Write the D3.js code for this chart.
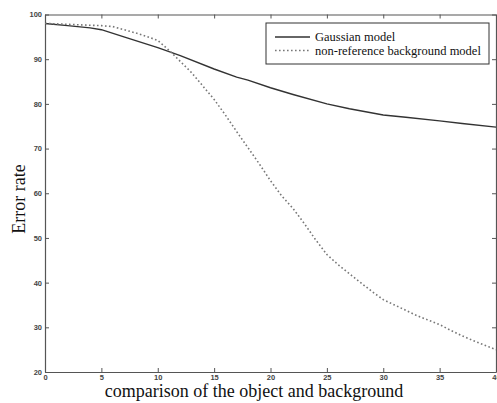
<!DOCTYPE html>
<html>
<head>
<meta charset="utf-8">
<script src="https://cdn.jsdelivr.net/npm/d3@7"></script>
<style>
  body { margin: 0; background: #fff; }
  svg { display: block; }
</style>
</head>
<body>
<div id="chart"></div>
<script>
// values
const x_ticks = [0, 5, 10, 15, 20, 25, 30, 35, 40];
const y_ticks = [20, 30, 40, 50, 60, 70, 80, 90, 100];

const gauss_x = [0, 2, 4, 5, 7, 10, 12, 15, 17, 18, 20, 22, 25, 27, 30, 32, 35, 37, 40];
const gauss_y = [98, 97.5, 97, 96.6, 95, 92.6, 90.8, 87.8, 86, 85.3, 83.6, 82.1, 80, 78.9, 77.5, 77, 76.2, 75.6, 74.8];

const bg_x = [0, 2, 4, 5, 6, 7, 8, 9, 10, 11, 12, 13, 14, 15, 16, 17, 18, 19, 20, 21, 22, 23, 24, 25,
              26, 27, 28, 29, 30, 31, 32, 33, 34, 35, 36, 37, 38, 39, 40];
const bg_y = [98, 97.8, 97.6, 97.5, 97.3, 96.6, 95.9, 95.1, 94.2, 92, 89.5, 87, 84, 81, 77.5, 73.8, 70.2, 66.6, 62.8, 59.4, 56.6, 53.2, 49.6, 46.3,
              44, 42, 40, 38, 36.2, 35, 33.8, 32.6, 31.6, 30.6, 29.3, 28.1, 27, 26, 25];

const series_names = ["Gaussian model", "non-reference background model"];

function drawChart() {
    const width = 497, height = 403;
    const margin = {top: 14.5, right: 1, bottom: 31, left: 45};
    const w = width - margin.left - margin.right;
    const h = height - margin.top - margin.bottom;

    const svg = d3.select("#chart").append("svg")
        .attr("width", width)
        .attr("height", height);

    const g = svg.append("g")
        .attr("transform", "translate(" + margin.left + "," + margin.top + ")");

    const x = d3.scaleLinear().domain([0, 40]).range([0, w]);
    const y = d3.scaleLinear().domain([20, 100]).range([h, 0]);

    const tick_font = "bold 7.5px 'Liberation Sans', Arial, sans-serif";

    // bottom axis, ticks pointing in
    const xa = g.append("g")
        .attr("transform", "translate(0," + h + ")")
        .call(d3.axisBottom(x).tickValues(x_ticks).tickSizeInner(-4).tickSizeOuter(0).tickPadding(4));
    // top axis
    const xt = g.append("g")
        .call(d3.axisTop(x).tickValues(x_ticks).tickSizeInner(-4).tickSizeOuter(0).tickFormat(""));
    // left axis
    const ya = g.append("g")
        .call(d3.axisLeft(y).tickValues(y_ticks).tickSizeInner(-4).tickSizeOuter(0).tickPadding(3));
    // right axis
    const yr = g.append("g")
        .attr("transform", "translate(" + w + ",0)")
        .call(d3.axisRight(y).tickValues(y_ticks).tickSizeInner(-4).tickSizeOuter(0).tickFormat(""));

    [xa, xt, ya, yr].forEach(function(a) {
        a.selectAll("path").attr("stroke", "#555").attr("stroke-width", 1.2);
        a.selectAll("line").attr("stroke", "#555");
        a.selectAll("text").attr("fill", "#444").style("font", tick_font);
    });
    xa.selectAll("text").attr("dy", "0.5em");

    // lines
    const line = d3.line()
        .x(d => x(d[0]))
        .y(d => y(d[1]));

    g.append("path")
        .datum(d3.zip(gauss_x, gauss_y))
        .attr("fill", "none")
        .attr("stroke", "#333")
        .attr("stroke-width", 1.4)
        .attr("d", line);

    g.append("path")
        .datum(d3.zip(bg_x, bg_y))
        .attr("fill", "none")
        .attr("stroke", "#777")
        .attr("stroke-width", 1.6)
        .attr("stroke-dasharray", "1.6,2.4")
        .attr("d", line);

    // legend
    const legend = svg.append("g").attr("transform", "translate(266,23)");
    legend.append("rect")
        .attr("width", 223).attr("height", 41)
        .attr("fill", "#fff")
        .attr("stroke", "#333")
        .attr("stroke-width", 1);

    const styles = [
        {stroke: "#333", dash: null, sw: 1.4},
        {stroke: "#777", dash: "1.6,2.4", sw: 1.6}
    ];
    series_names.forEach(function(name, i) {
        const yy = 14 + i * 13.5;
        legend.append("line")
            .attr("x1", 9).attr("x2", 44)
            .attr("y1", yy).attr("y2", yy)
            .attr("stroke", styles[i].stroke)
            .attr("stroke-width", styles[i].sw)
            .attr("stroke-dasharray", styles[i].dash);
        legend.append("text")
            .attr("x", 49).attr("y", yy + 4)
            .style("font", "12.5px 'Liberation Serif', 'Times New Roman', serif")
            .attr("fill", "#111")
            .text(name);
    });

    // axis titles
    svg.append("text")
        .attr("x", 254).attr("y", 397)
        .attr("text-anchor", "middle")
        .style("font", "18px 'Liberation Serif', 'Times New Roman', serif")
        .attr("fill", "#111")
        .text("comparison of the object and background");

    svg.append("text")
        .attr("transform", "translate(25,199) rotate(-90)")
        .attr("text-anchor", "middle")
        .style("font", "18px 'Liberation Serif', 'Times New Roman', serif")
        .attr("fill", "#111")
        .text("Error rate");
}

drawChart();
</script>
</body>
</html>
